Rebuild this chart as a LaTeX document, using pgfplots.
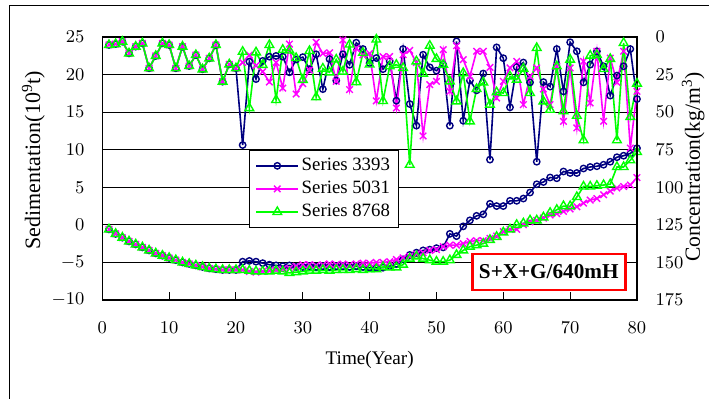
\documentclass[border=0pt]{standalone}
\usepackage{fontspec}
\setmainfont{Liberation Serif}
\usepackage{pgfplots}
\usepackage{pgfplotstable}
\pgfplotsset{compat=1.18}
\definecolor{sblue}{RGB}{0,0,128}
\definecolor{smag}{RGB}{255,0,255}
\definecolor{sgreen}{RGB}{0,255,0}

\pgfplotstableread{
t b m g
1 -0.6 -0.6 -0.6
2 -1.2 -1.2 -1.2
3 -1.7 -1.7 -1.7
4 -2.2 -2.2 -2.2
5 -2.6 -2.6 -2.6
6 -3.0 -3.0 -3.0
7 -3.4 -3.4 -3.4
8 -3.8 -3.8 -3.8
9 -4.1 -4.1 -4.1
10 -4.4 -4.4 -4.4
11 -4.7 -4.7 -4.7
12 -5.0 -5.0 -5.0
13 -5.2 -5.2 -5.2
14 -5.4 -5.4 -5.4
15 -5.6 -5.6 -5.6
16 -5.8 -5.8 -5.8
17 -5.9 -5.9 -5.9
18 -6.0 -6.0 -6.0
19 -6.0 -6.0 -6.0
20 -6.0 -6.0 -6.0
21 -4.9 -6.0 -6.0
22 -4.8 -6.2 -6.1
23 -4.9 -6.3 -6.2
24 -5.1 -6.2 -6.2
25 -5.3 -6.1 -6.2
26 -5.4 -6.0 -6.1
27 -5.5 -5.9 -6.2
28 -5.4 -5.8 -6.4
29 -5.6 -5.5 -6.3
30 -5.6 -5.3 -6.2
31 -5.5 -5.3 -6.1
32 -5.6 -5.4 -6.1
33 -5.5 -5.3 -6.0
34 -5.6 -5.2 -6.1
35 -5.5 -5.3 -6.0
36 -5.5 -5.2 -6.0
37 -5.6 -5.3 -6.0
38 -5.5 -5.2 -5.9
39 -5.6 -5.1 -6.0
40 -5.7 -5.1 -5.9
41 -5.7 -5.0 -5.9
42 -5.7 -5.0 -5.6
43 -5.5 -4.9 -5.65
44 -5.2 -4.6 -5.65
45 -4.6 -4.4 -5.3
46 -4.0 -4.2 -4.5
47 -3.7 -3.9 -4.2
48 -3.4 -3.7 -4.5
49 -3.3 -3.4 -4.7
50 -3.1 -3.3 -4.9
51 -3.0 -2.9 -4.9
52 -1.2 -2.7 -4.7
53 -1.5 -2.7 -4.0
54 -0.2 -2.5 -3.4
55 0.6 -2.2 -2.9
56 1.2 -2.1 -2.7
57 1.4 -2.1 -2.5
58 2.8 -1.8 -2.0
59 2.5 -1.5 -1.6
60 2.5 -0.9 -1.0
61 3.2 -0.6 -0.6
62 3.2 -0.6 0.0
63 3.5 0.0 0.2
64 4.3 0.4 0.6
65 5.4 0.6 0.6
66 5.7 0.9 1.0
67 6.3 1.3 1.6
68 6.2 1.5 2.0
69 7.1 1.8 2.5
70 6.9 2.1 2.5
71 6.9 2.4 3.7
72 7.5 2.9 5.1
73 7.7 3.3 5.1
74 7.8 3.5 5.2
75 8.0 4.0 5.3
76 8.4 4.5 5.4
77 9.0 4.9 7.7
78 9.2 5.1 7.7
79 9.5 5.3 8.6
80 10.2 6.3 9.7
}\sedtable

\pgfplotstableread{
t b m g
1 5.3 5.3 5.3
2 4.7 4.7 4.7
3 3.1 3.1 3.1
4 10.9 10.9 10.9
5 6.4 6.4 6.4
6 4.2 4.2 4.2
7 20.8 20.8 20.8
8 12.6 12.6 12.6
9 4.2 4.2 4.2
10 5.3 5.3 5.3
11 20.8 20.8 20.8
12 6.4 6.4 6.4
13 19.3 19.3 19.3
14 12.0 12.0 12.0
15 21.5 21.5 21.5
16 14.2 14.2 14.2
17 5.3 5.3 5.3
18 29.7 29.7 29.7
19 18.2 18.2 18.2
20 20.8 20.8 20.8
21 71.9 17 9.8
22 16.4 12 47.3
23 28 19 10.2
24 15.9 23 18.6
25 13.1 30 5.3
26 12.6 17 41.9
27 13.1 34 8.5
28 23.5 4.7 9
29 15 38 14
30 13.4 31 28.5
31 21.4 22 9.3
32 11.5 3.5 40
33 34.7 11 21
34 14.7 10.5 23.5
35 29 29.5 15
36 11.5 2 23
37 18.5 35 5
38 3.8 7.5 30
39 8 12 10.5
40 17.4 11 18.3
41 14 42.5 1.7
42 21.4 13 42.6
43 16 13 19.5
44 42.4 47.3 18.5
45 8 11.8 20.6
46 44.6 8.9 85
47 59 17 16.2
48 11.8 65.8 24.4
49 20.2 31.7 5.8
50 22.4 29.5 14.6
51 18.4 8.4 18.4
52 59 36.2 29.5
53 2.9 5.8 42.8
54 55.7 15.1 24
55 29 26.2 56.1
56 35.5 9.5 34.6
57 24.3 9.5 30.2
58 81.6 20.2 45
59 6.9 40.6 36.8
60 14.1 29.5 37.3
61 46.8 20.6 26.2
62 20 16.2 28.4
63 17 45 21
64 30.2 26.2 37.3
65 83 20.6 7.3
66 30 34.6 42.8
67 33 45 48.4
68 8 19.5 19.5
69 36.2 56.1 49.4
70 3.5 20.6 15.1
71 9.5 60.5 52.4
72 30.2 16.2 68.7
73 18.4 43.9 12.4
74 9.5 9.5 11.9
75 19.5 56.1 21.3
76 39 14 14.6
77 25.7 30.2 68.7
78 19.5 9.5 4
79 8 73.9 53.2
80 41.3 36.2 31
}\conctable

\pgfplotsset{
  bluestyle/.style={sblue, line width=0.8pt, mark=o, mark size=1.6pt, mark options={solid, line width=0.7pt}},
  magstyle/.style={smag, line width=0.8pt, mark=x, mark size=2.3pt, mark options={solid, line width=0.7pt}},
  greenstyle/.style={sgreen, line width=0.8pt, mark=triangle, mark size=2.5pt, mark options={solid, line width=0.7pt}},
}

\begin{document}
\begin{tikzpicture}
\begin{axis}[
  at={(0,0)}, anchor=south west,
  scale only axis, width=267.35pt, height=131.5pt,
  clip=false,
  xmin=0, xmax=80, ymin=-10, ymax=25,
  xtick={0,10,...,80}, ytick={-10,-5,...,25},
  xtick pos=bottom, tick align=inside, major tick length=4pt,
  xtick style={black, line width=0.5pt},
  ytick style={draw=none},
  ymajorgrids, grid style={black, line width=0.5pt},
  axis line style={line width=0.75pt},
  tick label style={font=\fontsize{9.5}{11}\selectfont},
  xticklabel shift=7.5pt, yticklabel shift=5.4pt,
  xlabel={Time(Year)}, ylabel={Sedimentation(10\textsuperscript{9}t)},
  xlabel style={at={(axis description cs:0.5,-0.228)}, anchor=center, font=\fontsize{9.6}{11}\selectfont},
  ylabel style={at={(axis description cs:-0.129,0.532)}, anchor=center, font=\fontsize{11}{12}\selectfont},
  legend style={at={(axis description cs:0.2744,0.5703)}, anchor=north west, draw=black, line width=0.5pt,
    font=\fontsize{9.4}{11}\selectfont, row sep=1.2pt, inner xsep=3pt, inner ysep=2.5pt,
    nodes={inner sep=1.3pt}},
  legend cell align=left,
  legend image code/.code={\draw[mark repeat=2,mark phase=2] plot coordinates {(0pt,0pt) (10.5pt,0pt) (21pt,0pt)};},
]
\addplot[bluestyle] table[x=t, y=b] {\sedtable};
\addlegendentry{Series 3393}
\addplot[magstyle] table[x=t, y=m] {\sedtable};
\addlegendentry{Series 5031}
\addplot[greenstyle] table[x=t, y=g] {\sedtable};
\addlegendentry{Series 8768}
\end{axis}
\begin{axis}[
  at={(0,0)}, anchor=south west,
  scale only axis, width=267.35pt, height=131.5pt,
  clip=false,
  xmin=0, xmax=80, ymin=0, ymax=175, y dir=reverse,
  axis x line=none, axis y line*=right,
  ytick={0,25,...,175}, ytick style={draw=none},
  axis line style={line width=0.75pt},
  tick label style={font=\fontsize{9.5}{11}\selectfont},
  yticklabel shift=5.8pt,
  ylabel={Concentration(kg/m\textsuperscript{3})},
  ylabel style={at={(axis description cs:1.105,0.506)}, anchor=center, rotate=0, font=\fontsize{10.8}{12}\selectfont},
]
\addplot[bluestyle, forget plot] table[x=t, y=b] {\conctable};
\addplot[magstyle, forget plot] table[x=t, y=m] {\conctable};
\addplot[greenstyle, forget plot] table[x=t, y=g] {\conctable};
\node[draw=red, line width=1.35pt, fill=white, minimum width=76.5pt, minimum height=18pt, inner sep=1pt,
  font=\bfseries\fontsize{10.6}{12}\selectfont] at (axis cs:66.8,156.4) {S+X+G/640mH};
\end{axis}
\draw[line width=0.5pt] (-46.15pt,-52pt) rectangle (305pt,147pt);
\pgfresetboundingbox
\path[use as bounding box] (-51.15pt,-49.5pt) rectangle (303.35pt,150pt);
\end{tikzpicture}
\end{document}
